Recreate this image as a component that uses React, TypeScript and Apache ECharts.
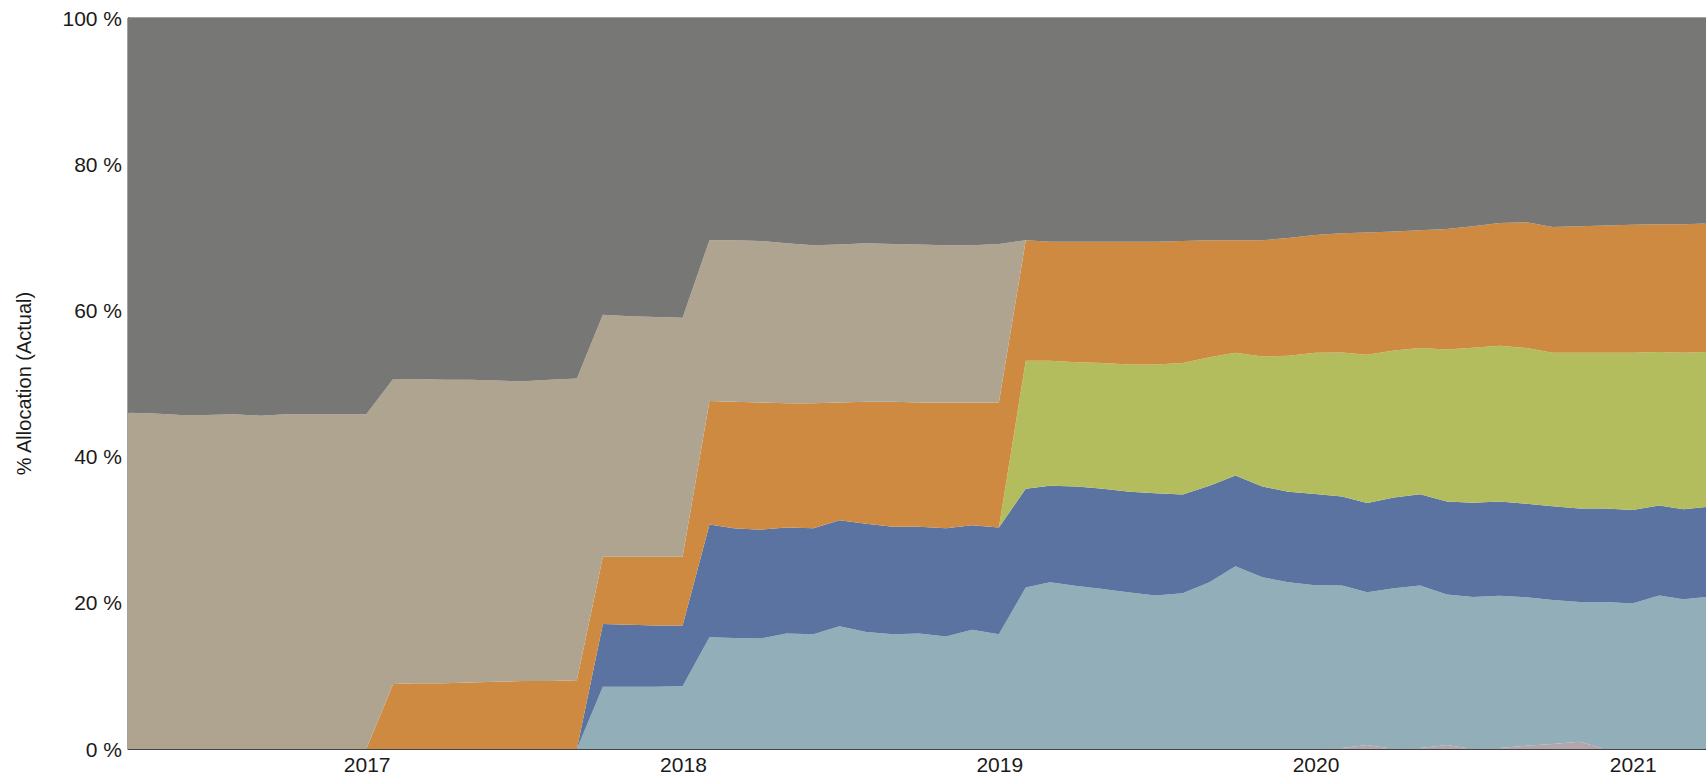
import React, { useEffect, useRef } from "react";
import * as echarts from "echarts";

const dates = [
  "2016-03-31", "2016-04-30", "2016-05-31", "2016-06-30", "2016-07-31", "2016-08-31", "2016-09-30", "2016-10-31", "2016-11-30", "2016-12-31",
  "2017-01-31", "2017-02-28", "2017-03-31", "2017-04-30", "2017-05-31", "2017-06-30", "2017-07-31", "2017-08-31", "2017-09-30", "2017-10-31", "2017-11-30", "2017-12-31",
  "2018-01-31", "2018-02-28", "2018-03-31", "2018-04-30", "2018-05-31", "2018-06-30", "2018-07-31", "2018-08-31", "2018-09-30", "2018-10-31", "2018-11-30", "2018-12-31",
  "2019-01-31", "2019-02-28", "2019-03-31", "2019-04-30", "2019-05-31", "2019-06-30", "2019-07-31", "2019-08-31", "2019-09-30", "2019-10-31", "2019-11-30", "2019-12-31",
  "2020-01-31", "2020-02-29", "2020-03-31", "2020-04-30", "2020-05-31", "2020-06-30", "2020-07-31", "2020-08-31", "2020-09-30", "2020-10-31", "2020-11-30", "2020-12-31",
  "2021-01-31", "2021-02-28", "2021-03-26",
];

// bottom-most (small pink)
const pinkValues = [
  0, 0, 0, 0, 0, 0, 0, 0, 0, 0,
  0, 0, 0, 0, 0, 0, 0, 0, 0, 0, 0, 0,
  0, 0, 0, 0, 0, 0, 0, 0, 0, 0, 0, 0,
  0, 0, 0, 0, 0, 0, 0, 0, 0, 0, 0, 0,
  0.15, 0.55, 0, 0.15, 0.55, 0, 0.15, 0.45, 0.7, 1.0, 0, 0,
  0, 0, 0,
];

const lightBlueValues = [
  0, 0, 0, 0, 0, 0, 0, 0, 0, 0,
  0, 0, 0, 0, 0, 0, 0, 0, 8.5, 8.5, 8.5, 8.6,
  15.3, 15.2, 15.1, 15.8, 15.7, 16.8, 16.0, 15.7, 15.8, 15.4, 16.3, 15.7,
  22.1, 22.8, 22.3, 21.9, 21.4, 21.0, 21.3, 22.8, 25.0, 23.5, 22.8, 22.4,
  22.2, 20.9, 22.0, 22.2, 20.6, 20.8, 20.8, 20.3, 19.7, 19.1, 20.1, 19.9,
  21.0, 20.5, 20.8,
];

const blueValues = [
  0, 0, 0, 0, 0, 0, 0, 0, 0, 0,
  0, 0, 0, 0, 0, 0, 0, 0, 8.6, 8.5, 8.4, 8.3,
  15.4, 15.0, 14.9, 14.5, 14.5, 14.5, 14.8, 14.7, 14.6, 14.8, 14.3, 14.6,
  13.5, 13.2, 13.6, 13.7, 13.8, 14.0, 13.5, 13.2, 12.4, 12.4, 12.4, 12.5,
  12.2, 12.2, 12.4, 12.5, 12.7, 12.9, 12.9, 12.8, 12.8, 12.8, 12.8, 12.8,
  12.3, 12.3, 12.3,
];

const greenValues = [
  0, 0, 0, 0, 0, 0, 0, 0, 0, 0,
  0, 0, 0, 0, 0, 0, 0, 0, 0, 0, 0, 0,
  0, 0, 0, 0, 0, 0, 0, 0, 0, 0, 0, 0,
  17.5, 17.1, 17.0, 17.2, 17.4, 17.6, 18.0, 17.6, 16.8, 17.8, 18.6, 19.3,
  19.7, 20.3, 20.1, 20.0, 20.8, 21.2, 21.3, 21.3, 21.0, 21.3, 21.3, 21.5,
  21.0, 21.4, 21.2,
];

const orangeValues = [
  0, 0, 0, 0, 0, 0, 0, 0, 0, 0,
  8.9, 9.0, 9.0, 9.1, 9.2, 9.3, 9.3, 9.4, 9.2, 9.3, 9.4, 9.4,
  16.9, 17.3, 17.4, 17.0, 17.1, 16.1, 16.7, 17.1, 17.0, 17.2, 16.8, 17.1,
  16.5, 16.3, 16.5, 16.6, 16.8, 16.8, 16.7, 16.0, 15.4, 15.9, 16.1, 16.1,
  16.3, 16.7, 16.3, 16.1, 16.5, 16.6, 16.8, 17.2, 17.2, 17.3, 17.4, 17.5,
  17.5, 17.6, 17.6,
];

const tanValues = [
  46.0, 45.9, 45.7, 45.7, 45.8, 45.6, 45.8, 45.8, 45.8, 45.8,
  41.7, 41.6, 41.5, 41.4, 41.2, 41.0, 41.2, 41.3, 33.1, 32.9, 32.8, 32.7,
  22.0, 22.1, 22.1, 21.9, 21.6, 21.6, 21.7, 21.6, 21.6, 21.5, 21.5, 21.7,
  0, 0, 0, 0, 0, 0, 0, 0, 0, 0, 0, 0,
  0, 0, 0, 0, 0, 0, 0, 0, 0, 0, 0, 0,
  0, 0, 0,
];

const grayValues = [
  54.0, 54.1, 54.3, 54.3, 54.2, 54.4, 54.2, 54.2, 54.2, 54.2,
  49.4, 49.4, 49.5, 49.5, 49.6, 49.7, 49.5, 49.3, 40.6, 40.8, 40.9, 41.0,
  30.4, 30.4, 30.5, 30.8, 31.1, 31.0, 30.8, 30.9, 31.0, 31.1, 31.1, 30.9,
  30.4, 30.6, 30.6, 30.6, 30.6, 30.6, 30.5, 30.4, 30.4, 30.4, 30.1, 29.7,
  29.5, 29.4, 29.2, 29.1, 28.9, 28.5, 28.1, 28.0, 28.6, 28.5, 28.4, 28.3,
  28.2, 28.2, 28.1,
];

const yTicks = [0, 20, 40, 60, 80, 100];

const seriesDefs = [
  { name: "S1", values: pinkValues, color: "#B4A5AB" },
  { name: "S2", values: lightBlueValues, color: "#92AEB8" },
  { name: "S3", values: blueValues, color: "#5B73A0" },
  { name: "S4", values: greenValues, color: "#B3BD5E" },
  { name: "S5", values: orangeValues, color: "#CD8A40" },
  { name: "S6", values: tanValues, color: "#AEA490" },
  { name: "S7", values: grayValues, color: "#777775" },
];

const FONT = "'Liberation Sans', Arial, sans-serif";

export default function App() {
  const ref = useRef<HTMLDivElement>(null);
  useEffect(() => {
    if (!ref.current) return;
    const chart = echarts.init(ref.current, null, { renderer: "svg" });
    chart.setOption({
      animation: false,
      grid: {
        left: 128,
        top: 18,
        right: -2,
        bottom: 31,
        show: true,
        borderColor: "#444444",
        borderWidth: 1,
        backgroundColor: "transparent",
      },
      xAxis: {
        type: "time",
        min: dates[0],
        max: dates[dates.length - 1],
        axisLine: { show: true, lineStyle: { color: "#444444", width: 1 } },
        axisTick: { show: false },
        splitLine: { show: false },
        axisLabel: {
          margin: 5,
          fontFamily: FONT,
          fontSize: 21,
          color: "#1a1a1a",
          hideOverlap: false,
          formatter: (v: number) => {
            const d = new Date(v);
            return d.getMonth() === 0 && d.getDate() === 1 ? String(d.getFullYear()) : "";
          },
        },
      },
      yAxis: {
        type: "value",
        min: yTicks[0],
        max: yTicks[yTicks.length - 1],
        interval: 20,
        name: "% Allocation (Actual)",
        nameLocation: "middle",
        nameRotate: 90,
        nameGap: 94,
        nameTextStyle: { fontFamily: FONT, fontSize: 20, color: "#1a1a1a" },
        axisLine: { show: true, lineStyle: { color: "#444444", width: 1 } },
        axisTick: { show: false },
        splitLine: { show: false },
        axisLabel: {
          margin: 6,
          fontFamily: FONT,
          fontSize: 21,
          color: "#1a1a1a",
          formatter: "{value} %",
        },
      },
      series: seriesDefs.map((s) => ({
        name: s.name,
        type: "line",
        stack: "total",
        symbol: "none",
        showSymbol: false,
        color: s.color,
        lineStyle: { width: 0 },
        areaStyle: { color: s.color, opacity: 1 },
        emphasis: { disabled: true },
        data: dates.map((d, i) => [d, s.values[i]]),
      })),
    });
    return () => chart.dispose();
  }, []);
  return (
    <div
      ref={ref}
      style={{ position: "absolute", left: 0, top: 0, width: 1706, height: 780 }}
    />
  );
}
